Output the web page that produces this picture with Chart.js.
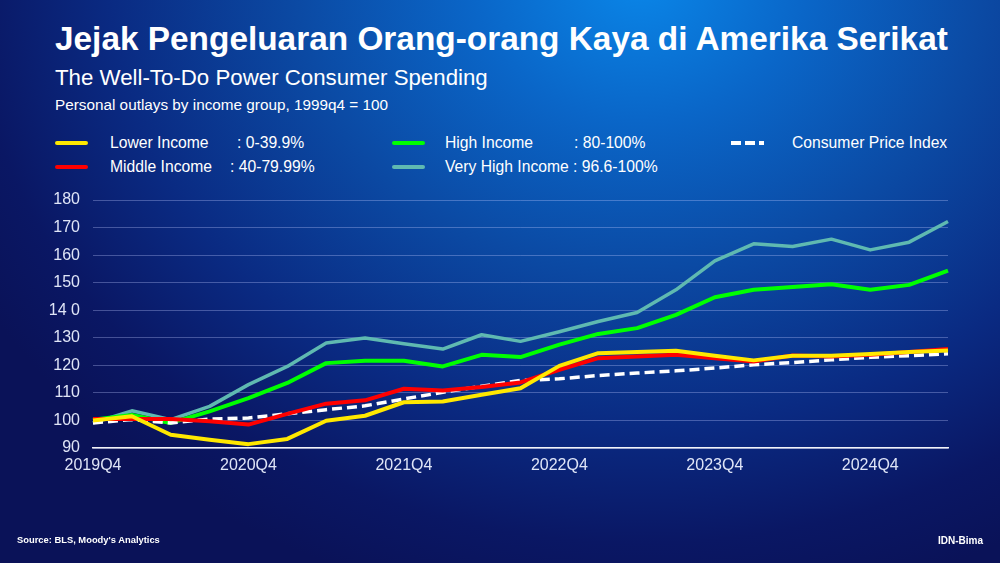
<!DOCTYPE html>
<html>
<head>
<meta charset="utf-8">
<script src="https://cdn.jsdelivr.net/npm/chart.js@4/dist/chart.umd.min.js"></script>
<style>
  html, body { margin:0; padding:0; }
  body {
    width:1000px; height:563px; overflow:hidden; position:relative;
    font-family: "Liberation Sans", Arial, sans-serif; color:#fff;
    background: radial-gradient(ellipse 760px 640px at 640px -20px, #0a86e8 0%, #0a66c8 22%, #0b4aa4 45%, #0a2a82 70%, #0a1764 88%, #0a1258 100%);
  }
  .t { position:absolute; white-space:pre; line-height:1; }
  #title { left:55px; top:22px; font-size:32px; font-weight:bold; }
  #sub { left:55px; top:67px; font-size:21px; }
  #sub2 { left:55px; top:97px; font-size:14px; }
  #src { left:17px; top:536px; font-size:10px; font-weight:bold; }
  #idn { right:17px; top:536px; font-size:10px; font-weight:bold; }
  .leg { position:absolute; font-size:15.7px; line-height:1; white-space:pre; }
  .sw { position:absolute; height:0; }
  #chartbox { position:absolute; left:0; top:0; width:1000px; height:563px; }
</style>
</head>
<body>
<div class="t" id="title" data-w="893">Jejak Pengeluaran Orang-orang Kaya di Amerika Serikat</div>
<div class="t" id="sub" data-w="433">The Well-To-Do Power Consumer Spending</div>
<div class="t" id="sub2" data-w="333">Personal outlays by income group, 1999q4 = 100</div>
<div id="legend"></div>
<div id="chartbox"><canvas id="c" width="1000" height="563"></canvas></div>
<div class="t" id="src" data-w="143">Source: BLS, Moody's Analytics</div>
<div class="t" id="idn">IDN-Bima</div>
<script>
const categories = ["2019Q4","2020Q1","2020Q2","2020Q3","2020Q4","2021Q1","2021Q2","2021Q3","2021Q4","2022Q1","2022Q2","2022Q3","2022Q4","2023Q1","2023Q2","2023Q3","2023Q4","2024Q1","2024Q2","2024Q3","2024Q4","2025Q1","2025Q2"];
const lowerIncome = [100.0,101.5,94.8,93.0,91.4,93.3,99.9,101.7,106.6,106.9,109.3,111.7,119.8,124.4,124.8,125.3,123.5,121.8,123.5,123.5,124.1,124.8,125.4];
const middleIncome = [100.5,100.5,100.5,99.7,98.5,102.4,106.1,107.3,111.5,110.9,112.1,113.8,118.4,122.6,123.2,123.8,122.6,121.4,123.6,123.2,123.8,124.8,125.9];
const highIncome = [100.3,102.0,99.1,103.3,108.1,113.6,120.8,121.7,121.7,119.6,123.8,123.0,127.5,131.4,133.5,138.3,144.7,147.4,148.4,149.4,147.4,149.2,154.4];
const veryHighIncome = [99.1,103.5,100.3,105.1,113.0,119.6,128.1,129.9,127.8,125.9,131.1,128.7,132.2,135.9,139.2,147.4,157.9,164.1,163.1,165.8,161.9,164.7,172.2];
const cpi = [99.1,100.3,99.1,100.5,100.9,102.4,103.9,105.3,107.8,110.2,112.4,114.5,115.1,116.3,117.2,118.0,119.0,120.2,121.0,122.0,122.9,123.5,124.2];
const yTickLabels = {90:"90",100:"100",110:"110",120:"120",130:"130",140:"14 0",150:"150",160:"160",170:"170",180:"180"};
const seriesNames = ["Lower Income","Middle Income","High Income","Very High Income","Consumer Price Index"];
const seriesRanges = [": 0-39.9%",": 40-79.99%",": 80-100%",": 96.6-100%",""];

const colors = { lower:"#ffe800", middle:"#ff0000", high:"#00ff00", vhigh:"#5fb9b1", cpi:"#ffffff" };

// fit header texts to measured widths
document.querySelectorAll('[data-w]').forEach(el => {
  const target = +el.dataset.w;
  const w = el.getBoundingClientRect().width;
  const fs = parseFloat(getComputedStyle(el).fontSize);
  el.style.fontSize = (fs * target / w).toFixed(2) + 'px';
});

// legend
const legendItems = [
  {i:0, color:colors.lower, x:55, y:143, tx:110, rx:237, dash:false},
  {i:1, color:colors.middle, x:55, y:167, tx:110, rx:230, dash:false},
  {i:2, color:colors.high, x:392, y:143, tx:445, rx:574, dash:false},
  {i:3, color:colors.vhigh, x:392, y:167, tx:445, rx:573, dash:false},
  {i:4, color:colors.cpi, x:731, y:143, tx:792, rx:0, dash:true}
];
const lg = document.getElementById('legend');
const addText = (txt, x, y) => {
  const tx = document.createElement('div');
  tx.className = 'leg';
  tx.style.left = x + 'px';
  tx.style.top = (y - 8) + 'px';
  tx.textContent = txt;
  lg.appendChild(tx);
};
legendItems.forEach(it => {
  const sw = document.createElement('div');
  sw.className = 'sw';
  sw.style.left = it.x + 'px';
  sw.style.top = (it.y - 2) + 'px';
  sw.style.width = '33px';
  sw.style.height = '4px';
  if (it.dash) {
    sw.style.background = `repeating-linear-gradient(90deg, ${it.color} 0 10px, transparent 10px 14px)`;
  } else {
    sw.style.borderRadius = '2px';
    sw.style.background = it.color;
  }
  lg.appendChild(sw);
  addText(seriesNames[it.i], it.tx, it.y);
  if (seriesRanges[it.i]) addText(seriesRanges[it.i], it.rx, it.y);
});

const mk = (label, data, color, w, dash) => ({
  label, data, borderColor: color, backgroundColor: color, borderWidth: w,
  borderDash: dash || [], pointRadius: 0, tension: 0, fill: false,
  borderCapStyle: 'butt', borderJoinStyle: 'round'
});

new Chart(document.getElementById('c'), {
  type: 'line',
  data: {
    labels: categories,
    datasets: [
      mk(seriesNames[0], lowerIncome, colors.lower, 4),
      mk(seriesNames[1], middleIncome, colors.middle, 4),
      mk(seriesNames[4], cpi, colors.cpi, 3.5, [10, 5]),
      mk(seriesNames[2], highIncome, colors.high, 4),
      mk(seriesNames[3], veryHighIncome, colors.vhigh, 3.5)
    ]
  },
  options: {
    responsive: false, animation: false,
    layout: { padding: { top: 200, right: 52, left: 0, bottom: 0 } },
    plugins: { legend: { display: false }, tooltip: { enabled: false } },
    scales: {
      x: {
        offset: false,
        grid: { display: false, drawTicks: false },
        border: { display: true, color: 'rgba(255,255,255,0.95)', width: 1.5 },
        ticks: {
          autoSkip: false, maxRotation: 0, minRotation: 0, padding: 8,
          color: 'rgba(235,240,255,0.95)',
          font: { family: '"Liberation Sans", Arial, sans-serif', size: 16 },
          callback: (v, i) => (i % 4 === 0 ? categories[i] : '')
        },
        afterFit: s => { s.height = 115; }
      },
      y: {
        min: 90, max: 180,
        grid: { color: 'rgba(190,200,255,0.33)', lineWidth: 1, drawTicks: false },
        border: { display: false },
        ticks: {
          stepSize: 10, padding: 13,
          color: 'rgba(235,240,255,0.95)',
          font: { family: '"Liberation Sans", Arial, sans-serif', size: 16 },
          callback: v => yTickLabels[v] ?? ''
        },
        afterFit: s => { s.width = 93; }
      }
    }
  }
});
</script>
</body>
</html>
